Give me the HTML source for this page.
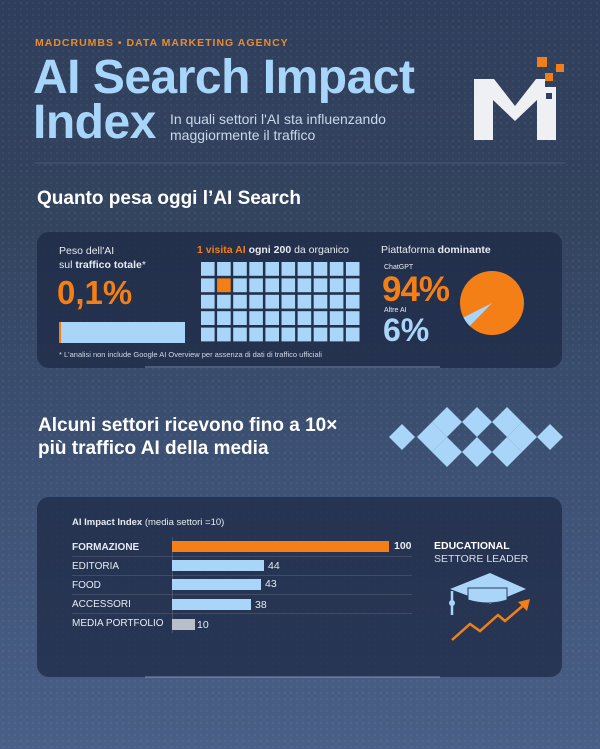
<!DOCTYPE html>
<html><head><meta charset="utf-8"><style>
*{margin:0;padding:0;box-sizing:border-box}
body{width:600px;height:749px;overflow:hidden;font-family:"Liberation Sans",sans-serif;position:relative;
background:linear-gradient(180deg,#2f3e5c 0%,#33445f 30%,#3c5073 60%,#4a5f87 100%);}
.dots{position:absolute;inset:0;background-image:radial-gradient(rgba(255,255,255,0.06) 0.8px,transparent 1px);background-size:6px 6px}
.a{position:absolute;white-space:nowrap}
.card{position:absolute;background:rgba(30,42,70,0.75);border-radius:12px}
.lbl{position:absolute;left:72px;font-size:10px;color:#e6ebf3}
.bar{position:absolute;left:172px;height:11px;background:#a9d5f9}
.val{position:absolute;font-size:10.5px;color:#e6ebf3}
.sep{position:absolute;left:72px;width:340px;height:1px;background:rgba(255,255,255,0.12)}
</style></head><body>
<div class="dots"></div>
<div class="a" style="left:35px;top:37px;font-size:10.5px;font-weight:bold;color:#e98b2e;letter-spacing:1px">MADCRUMBS • DATA MARKETING AGENCY</div>
<div class="a" style="left:33px;top:53px;font-size:48px;font-weight:bold;color:#a8d6fa;letter-spacing:-0.5px;line-height:50px">AI Search Impact</div>
<div class="a" style="left:33px;top:98px;font-size:48px;font-weight:bold;color:#a8d6fa;letter-spacing:-0.5px;line-height:50px">Index</div>
<div class="a" style="left:170px;top:111px;font-size:14px;color:#c9d8ea;line-height:16px">In quali settori l'AI sta influenzando<br>maggiormente il traffico</div>
<svg class="a" style="left:0;top:0" width="600" height="749">
<polygon fill="#eef0f3" points="474,79 494,79 515,106 536,79 545,79 545,87 556,87 556,140 537,140 537,100 515,121 493,100 493,140 474,140"/>
<rect x="546" y="93" width="6" height="6" fill="#2f3e5c"/>
<rect x="537" y="57" width="10" height="10" fill="#f07f1a"/>
<rect x="556" y="64" width="8" height="8" fill="#f07f1a"/>
<rect x="545" y="73" width="8" height="8" fill="#f07f1a"/>
<line x1="35" y1="163" x2="565" y2="163" stroke="rgba(255,255,255,0.12)"/>
</svg>
<div class="a" style="left:37px;top:188px;font-size:19px;font-weight:bold;color:#fff">Quanto pesa oggi l’AI Search</div>

<div class="card" style="left:37px;top:232px;width:525px;height:136px"></div>
<div class="a" style="left:59px;top:244px;font-size:10.5px;color:#e6ebf3;line-height:14px">Peso dell'AI<br>sul <b>traffico totale</b>*</div>
<div class="a" style="left:57px;top:274px;font-size:33px;font-weight:bold;color:#f47f16">0,1%</div>
<div class="a" style="left:59px;top:322px;width:126px;height:21px;background:#a9d5f9;border-left:2px solid #f47f16"></div>
<div class="a" style="left:197px;top:244px;font-size:10.5px;color:#e6ebf3"><b style="color:#f47f16">1 visita AI</b> <b>ogni 200</b> da organico</div>
<svg class="a" style="left:0;top:0" width="600" height="749" id="g"></svg>
<div class="a" style="left:381px;top:244px;font-size:10.5px;color:#e6ebf3">Piattaforma <b>dominante</b></div>
<div class="a" style="left:384px;top:264px;font-size:7px;color:#e6ebf3">ChatGPT</div>
<div class="a" style="left:382px;top:270px;font-size:35px;font-weight:bold;color:#f47f16;letter-spacing:-1px">94%</div>
<div class="a" style="left:384px;top:307px;font-size:7px;color:#e6ebf3">Altre AI</div>
<div class="a" style="left:383px;top:312px;font-size:32px;font-weight:bold;color:#a9d5f9">6%</div>
<div class="a" style="left:59px;top:350px;font-size:7.5px;color:#cfd8e6">* L'analisi non include Google AI Overview per assenza di dati di traffico ufficiali</div>

<div class="a" style="left:38px;top:414px;font-size:19px;font-weight:bold;color:#fff;line-height:23px">Alcuni settori ricevono fino a 10×<br>più traffico AI della media</div>

<div class="card" style="left:37px;top:497px;width:525px;height:180px"></div>
<div class="a" style="left:72px;top:517px;font-size:9.5px;color:#e6ebf3"><b>AI Impact Index</b> (media settori =10)</div>
<div class="a" style="left:172px;top:537px;width:1px;height:96px;background:rgba(255,255,255,0.15)"></div>
<div class="lbl" style="top:542px;font-weight:bold">FORMAZIONE</div>
<div class="lbl" style="top:561px">EDITORIA</div>
<div class="lbl" style="top:580px">FOOD</div>
<div class="lbl" style="top:599px">ACCESSORI</div>
<div class="lbl" style="top:618px">MEDIA PORTFOLIO</div>
<div class="sep" style="top:556px"></div><div class="sep" style="top:575px"></div><div class="sep" style="top:594px"></div><div class="sep" style="top:613px"></div>
<div class="bar" style="top:541px;width:217px;background:#f47f16"></div>
<div class="bar" style="top:560px;width:92px"></div>
<div class="bar" style="top:579px;width:89px"></div>
<div class="bar" style="top:599px;width:79px"></div>
<div class="bar" style="top:619px;width:23px;background:#b9bfc8"></div>
<div class="val" style="left:394px;top:540px;font-weight:bold">100</div>
<div class="val" style="left:268px;top:560px">44</div>
<div class="val" style="left:265px;top:578px">43</div>
<div class="val" style="left:255px;top:599px">38</div>
<div class="val" style="left:197px;top:619px">10</div>
<div class="a" style="left:434px;top:540px;font-size:10.5px;font-weight:bold;color:#fff;line-height:13px">EDUCATIONAL<br><span style="font-weight:normal;color:#d5deea">SETTORE LEADER</span></div>
<svg class="a" style="left:0;top:0" width="600" height="749">
<polygon points="490,573 526,589 490,604 450,589" fill="#a9d5f9"/>
<path d="M468,588 L468,600 Q488,606 507,600 L507,588 Z" fill="#a9d5f9" stroke="#2a3a5a" stroke-width="1"/>
<line x1="452" y1="591" x2="452" y2="615" stroke="#a9d5f9" stroke-width="2.5"/>
<circle cx="452" cy="603" r="3" fill="#a9d5f9"/>
<polyline points="452,640 470,624 480,631 498,615 505,621 526,603" fill="none" stroke="#f47f16" stroke-width="2.5"/>
<polygon points="530,599 518,602 527,611" fill="#f47f16"/>
<line x1="145" y1="677" x2="440" y2="677" stroke="rgba(200,220,245,0.5)"/>
<line x1="145" y1="367" x2="440" y2="367" stroke="rgba(200,220,245,0.5)"/>
<g fill="#a9d5f9">
<polygon points="402,424 415,437 402,450 389,437"/>
<polygon points="432,422 447,437 432,452 417,437"/>
<polygon points="447,407 462,422 447,437 432,422"/>
<polygon points="447,437 462,452 447,467 432,452"/>
<polygon points="477,407 492,422 477,437 462,422"/>
<polygon points="477,437 492,452 477,467 462,452"/>
<polygon points="507,407 522,422 507,437 492,422"/>
<polygon points="507,437 522,452 507,467 492,452"/>
<polygon points="522,422 537,437 522,452 507,437"/>
<polygon points="550,424 563,437 550,450 537,437"/>
</g>
<circle cx="492" cy="303" r="32" fill="#f47f16"/>
<path d="M492,303 L463.5,317.5 A32,32 0 0 0 469.8,326 Z" fill="#a9d5f9"/>
</svg>
<script>
var g=document.getElementById('g'),s='';
for(var r=0;r<5;r++)for(var c=0;c<10;c++){
s+='<rect x="'+(201+c*16.1)+'" y="'+(262+r*16.4)+'" width="13.6" height="13.8" fill="'+(r==1&&c==1?'#f47f16':'#a9d5f9')+'"/>';}
g.innerHTML=s;
</script>
</body></html>
